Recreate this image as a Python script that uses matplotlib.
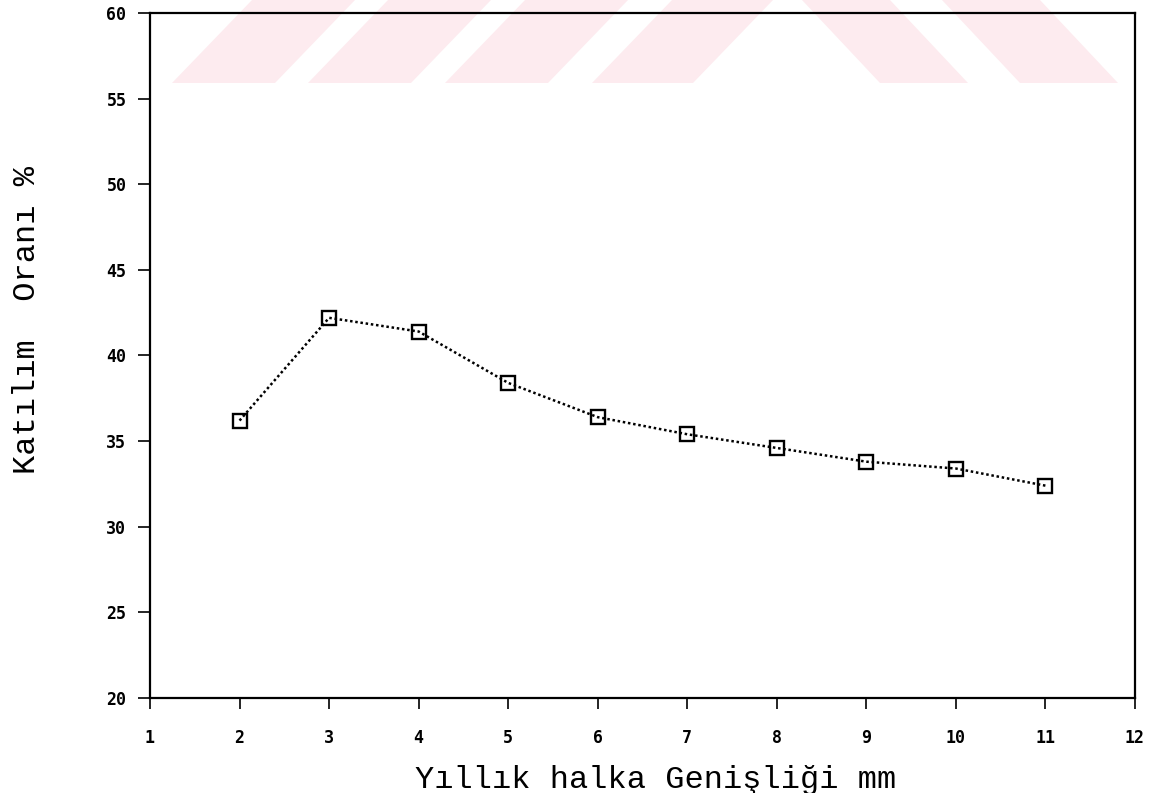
import matplotlib
matplotlib.use("Agg")
import matplotlib.pyplot as plt
from matplotlib.patches import Polygon

# veriler
genislik = [2, 3, 4, 5, 6, 7, 8, 9, 10, 11]
katilim = [36.2, 42.2, 41.4, 38.4, 36.4, 35.4, 34.6, 33.8, 33.4, 32.4]
x_ticks = list(range(1, 13))
y_ticks = list(range(20, 61, 5))

W, H = 1155, 793
fig = plt.figure(figsize=(W / 100, H / 100), dpi=100)

# eksen kutusu (piksel)
left, right, top, bottom = 150, 1135, 13, 698
ax = fig.add_axes([left / W, 1 - bottom / H, (right - left) / W, (bottom - top) / H])
ax.patch.set_facecolor("none")

# taramadaki soluk kirmizi filigran
def px(x, y):
    return (x / W, 1 - y / H)

wm_color = "#fdebef"
for x0, x1 in [(172, 275), (308, 411), (445, 548), (592, 693)]:
    pts = [px(x0, 83), px(x1, 83), px(x1 + 80, 0), px(x0 + 80, 0)]
    fig.patches.append(Polygon(pts, closed=True, transform=fig.transFigure,
                               facecolor=wm_color, edgecolor="none", zorder=-1))
for x0, x1 in [(880, 968), (1020, 1118)]:
    pts = [px(x0, 83), px(x1, 83), px(x1 - 78, 0), px(x0 - 78, 0)]
    fig.patches.append(Polygon(pts, closed=True, transform=fig.transFigure,
                               facecolor=wm_color, edgecolor="none", zorder=-1))

ax.plot(genislik, katilim, color="black", linestyle=(0, (1, 1.1)), linewidth=1.8,
        marker="s", markersize=9.5, markerfacecolor="none", markeredgecolor="black",
        markeredgewidth=1.7, clip_on=False)

ax.set_xlim(1, 12)
ax.set_ylim(20, 60)
ax.set_xticks(x_ticks)
ax.set_yticks(y_ticks)

for s in ax.spines.values():
    s.set_linewidth(1.6)
    s.set_color("black")

tick_font = {"family": "DejaVu Sans Mono", "weight": "bold", "size": 12}
ax.set_xticklabels([str(v) for v in x_ticks], fontdict=tick_font)
ax.set_yticklabels([str(v) for v in y_ticks], fontdict=tick_font)
ax.tick_params(axis="x", direction="out", length=8, width=1.2, pad=14)
ax.tick_params(axis="y", direction="out", length=9, width=1.2, pad=8)

label_font = {"family": "Liberation Mono", "size": 23}
ax.set_xlabel("Yıllık halka Genişliği mm", fontdict=label_font)
ax.xaxis.set_label_coords((656 - left) / (right - left), (bottom - 780) / (bottom - top))
ax.set_ylabel("Katılım  Oranı %", fontdict=label_font)
ax.yaxis.set_label_coords((27 - left) / (right - left), (bottom - 320) / (bottom - top))
ax.xaxis.label.set_va("center")
ax.yaxis.label.set_va("center")

fig.savefig("out.png", dpi=100)
